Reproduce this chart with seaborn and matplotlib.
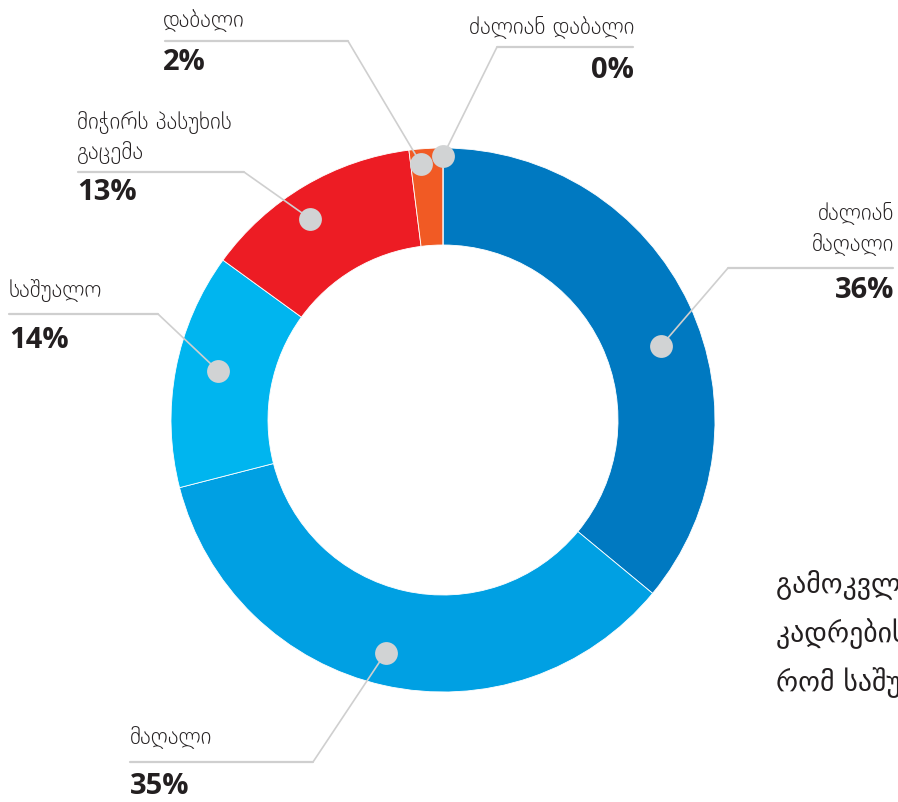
import numpy as np
import matplotlib
matplotlib.use("Agg")
import matplotlib.pyplot as plt
import seaborn as sns

# --- data -------------------------------------------------------------
categories = ["ძალიან\nმაღალი", "მაღალი", "საშუალო",
              "მიჭირს პასუხის\nგაცემა", "დაბალი", "ძალიან დაბალი"]
shares = [36, 35, 14, 13, 2, 0]
colors = ["#0079c1", "#00a0e3", "#00b5ef", "#ed1c24", "#f15a24", "#0079c1"]

note_lines = ["გამოკვლევამ აჩვენა", "კადრების მომზადების", "რომ საშუალო დონე"]

# --- layout (pixels, y measured from the top) ---------------------------
W, H = 898, 802
CX, CY = 443, 420
R_OUT, R_IN = 272, 175

# where each callout dot sits: fraction across its wedge, radius from centre
dot_frac = [0.55, 0.51, 0.53, 0.44, 0.32, 0.0]
dot_rad = [230, 240, 230, 241, 257, 264]

# callouts: text anchor x, alignment, label line y's, rule y, rule x-span, pct y
callouts = [
    dict(x=894, ha="right", ys=[213, 245], rule_y=268, rule=(728, 893), pct_y=290, elbow=728),
    dict(x=130, ha="left", ys=[738], rule_y=762, rule=(130, 313), pct_y=787, elbow=313),
    dict(x=9, ha="left", ys=[290], rule_y=314, rule=(9, 158), pct_y=340, elbow=158),
    dict(x=77, ha="left", ys=[122, 152], rule_y=172, rule=(78, 244), pct_y=192, elbow=244),
    dict(x=163, ha="left", ys=[21], rule_y=41, rule=(165, 348), pct_y=62, elbow=348),
    dict(x=634, ha="right", ys=[27], rule_y=47, rule=(497, 633), pct_y=70, elbow=497),
]

sns.set_theme(style="white")
plt.rcParams["font.family"] = ["DejaVu Sans"]

fig = plt.figure(figsize=(W / 100, H / 100), dpi=100)
ax = fig.add_axes([0, 0, 1, 1])
ax.set_xlim(0, W)
ax.set_ylim(0, H)
ax.axis("off")


def py(y):
    return H - y


ax.pie(shares, colors=colors, startangle=90, counterclock=False,
       radius=R_OUT, center=(CX, py(CY)),
       wedgeprops=dict(width=R_OUT - R_IN, linewidth=0.6, edgecolor="white"))
ax.set_xlim(0, W)
ax.set_ylim(0, H)
ax.set_aspect("equal")

line_c = "#cfcfcf"
dot_c = "#d1d3d4"
text_c = "#231f20"

starts = np.concatenate([[0], np.cumsum(shares)[:-1]])
for i, (label, v) in enumerate(zip(categories, shares)):
    pos = (starts[i] + v * dot_frac[i]) / sum(shares)
    theta = np.deg2rad(90 - 360 * pos)
    dx = CX + dot_rad[i] * np.cos(theta)
    dy = py(CY) + dot_rad[i] * np.sin(theta)
    c = callouts[i]
    # leader line: dot -> elbow -> horizontal rule
    ax.plot([dx, c["elbow"]], [dy, py(c["rule_y"])], color=line_c, lw=1.2,
            zorder=3, solid_capstyle="butt")
    ax.plot(list(c["rule"]), [py(c["rule_y"])] * 2, color=line_c, lw=1.6, zorder=3)
    ax.scatter([dx], [dy], s=270, color=dot_c, zorder=4, linewidths=0)
    for line, ty in zip(label.split("\n"), c["ys"]):
        ax.text(c["x"], py(ty), line, ha=c["ha"], va="center", fontsize=16.5,
                color=text_c, fontweight="light")
    ax.text(c["x"], py(c["pct_y"]), f"{v}%", ha=c["ha"], va="center",
            fontsize=21, fontweight="bold", family=["Open Sans", "DejaVu Sans"],
            color=text_c)

# explanatory note running past the right edge
for k, line in enumerate(note_lines):
    ax.text(776, py(585 + 49 * k), line, ha="left", va="center", fontsize=20,
            color=text_c)

fig.savefig("out.png", dpi=100)
